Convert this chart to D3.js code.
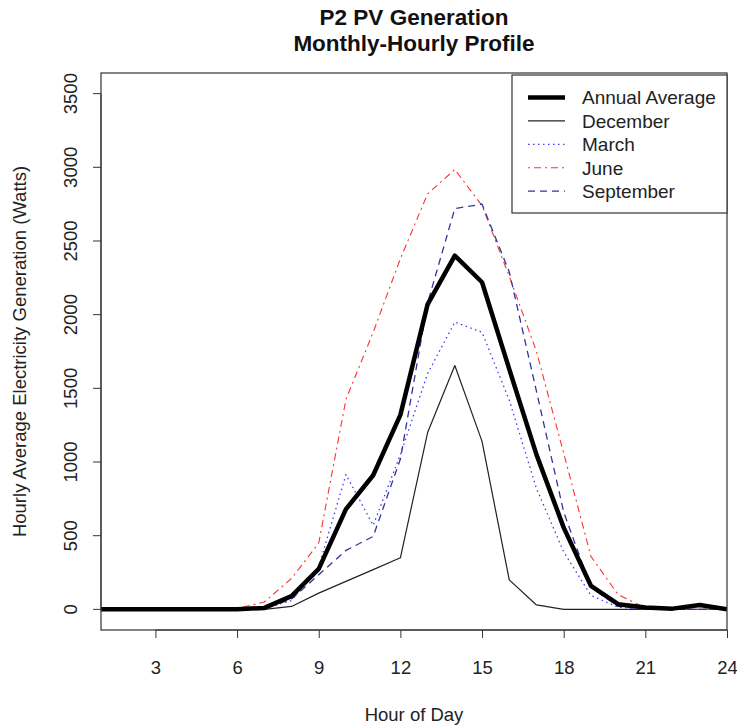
<!DOCTYPE html>
<html><head><meta charset="utf-8">
<script src="https://cdn.jsdelivr.net/npm/d3@7/dist/d3.min.js"></script>
<style>body{margin:0;background:#fff;} svg{display:block;font-family:"Liberation Sans",Arial,sans-serif;}</style>
</head><body><svg id="c" width="737" height="727"></svg>
<script>
const hours = d3.range(1, 25);
const annualAverage = [0,0,0,0,0,0,10,90,275,680,910,1320,2070,2400,2220,1630,1050,555,160,35,12,5,30,0];
const december      = [0,0,0,0,0,0,0,20,110,190,270,350,1200,1655,1140,200,30,0,0,0,0,0,0,0];
const march         = [0,0,0,0,0,0,5,60,290,915,570,1050,1600,1950,1880,1420,820,390,95,15,0,0,0,0];
const june          = [0,0,0,0,0,5,50,210,450,1425,1880,2380,2820,2985,2740,2260,1750,1060,360,100,10,0,0,0];
const september     = [0,0,0,0,0,0,5,70,235,400,495,1020,2080,2720,2750,2290,1480,660,150,20,0,0,0,0];
const seriesNames = ["Annual Average","December","March","June","September"];
const xTicks = [3,6,9,12,15,18,21,24];
const yTicks = [0,500,1000,1500,2000,2500,3000,3500];
const titleLines = ["P2 PV Generation","Monthly-Hourly Profile"];

const svg = d3.select("#c");
const L = 101, R = 727, T = 73, B = 630;
const x = d3.scaleLinear().domain([1,24]).range([L,R]);
const y = d3.scaleLinear().domain([-140,3640]).range([B,T]);
const FS = "18.5px";

const styles = {
  "Annual Average": {data: annualAverage, color:"#000", width:4.5, dash:null},
  "December": {data: december, color:"#222", width:1.2, dash:null},
  "March": {data: march, color:"#3b3bff", width:1.3, dash:"1.5,3.5"},
  "June": {data: june, color:"#ff3030", width:1.1, dash:"2,4,7,4"},
  "September": {data: september, color:"#33339f", width:1.3, dash:"7,5"}
};

const line = d3.line().x((d,i)=>x(hours[i])).y(d=>y(d));
const g = svg.append("g");
g.append("defs").append("clipPath").attr("id","clip").append("rect").attr("x",L).attr("y",T).attr("width",R-L).attr("height",B-T);
const plot = g.append("g").attr("clip-path","url(#clip)");
["December","March","June","September","Annual Average"].forEach(n=>{
  const s = styles[n];
  plot.append("path").datum(s.data).attr("d",line).attr("fill","none")
    .attr("stroke",s.color).attr("stroke-width",s.width)
    .attr("stroke-dasharray",s.dash).attr("stroke-linejoin","round");
});

// box
svg.append("rect").attr("x",L).attr("y",T).attr("width",R-L).attr("height",B-T)
  .attr("fill","none").attr("stroke","#333").attr("stroke-width",1.2);

// y axis
const yAxis = d3.axisLeft(y).tickValues(yTicks).tickSize(8).tickPadding(0).tickFormat(d3.format("d"));
const ya = svg.append("g").attr("transform",`translate(${L},0)`).call(yAxis);
ya.select(".domain").attr("d",`M-0,${y(0)}V${y(3500)}`).attr("stroke","#333");
ya.selectAll(".tick line").attr("stroke","#333");
ya.selectAll(".tick text").attr("transform",d=>`translate(-29,${y(d)}) rotate(-90)`).attr("x",0).attr("y",0).attr("dy",0)
  .attr("text-anchor","middle").attr("dominant-baseline","middle").style("font-size",FS).attr("fill","#222")
  .each(function(){ d3.select(this.parentNode).attr("transform","translate(0,0)"); });
ya.selectAll(".tick line").attr("transform",d=>`translate(0,${y(d)})`);

// x axis
const xAxis = d3.axisBottom(x).tickValues(xTicks).tickSize(8).tickPadding(23);
const xa = svg.append("g").attr("transform",`translate(0,${B})`).call(xAxis);
xa.select(".domain").attr("d",`M${x(3)},0H${x(24)}`).attr("stroke","#333");
xa.selectAll(".tick line").attr("stroke","#333");
xa.selectAll(".tick text").style("font-size",FS).attr("fill","#222").attr("dy","0.71em");

// titles
svg.append("text").attr("x",(L+R)/2).attr("y",25).attr("text-anchor","middle")
  .style("font-size","22.5px").style("font-weight","bold").attr("fill","#111").text(titleLines[0]);
svg.append("text").attr("x",(L+R)/2).attr("y",51).attr("text-anchor","middle")
  .style("font-size","22.5px").style("font-weight","bold").attr("fill","#111").text(titleLines[1]);
svg.append("text").attr("x",(L+R)/2).attr("y",721).attr("text-anchor","middle")
  .style("font-size",FS).attr("fill","#222").text("Hour of Day");
svg.append("text").attr("transform",`translate(26,${(T+B)/2}) rotate(-90)`).attr("text-anchor","middle")
  .style("font-size",FS).attr("fill","#222").text("Hourly Average Electricity Generation (Watts)");

// legend
const lg = svg.append("g");
lg.append("rect").attr("x",512).attr("y",75).attr("width",727-512).attr("height",213-75)
  .attr("fill","#fff").attr("stroke","#333").attr("stroke-width",1.2);
seriesNames.forEach((n,i)=>{
  const s = styles[n]; const yy = 97.5 + i*23.4;
  lg.append("line").attr("x1",528).attr("x2",565).attr("y1",yy).attr("y2",yy)
    .attr("stroke",s.color).attr("stroke-width",s.width).attr("stroke-dasharray",s.dash);
  lg.append("text").attr("x",582).attr("y",yy).attr("dy","0.36em").style("font-size","19px").attr("fill","#222").text(n);
});
</script></body></html>
